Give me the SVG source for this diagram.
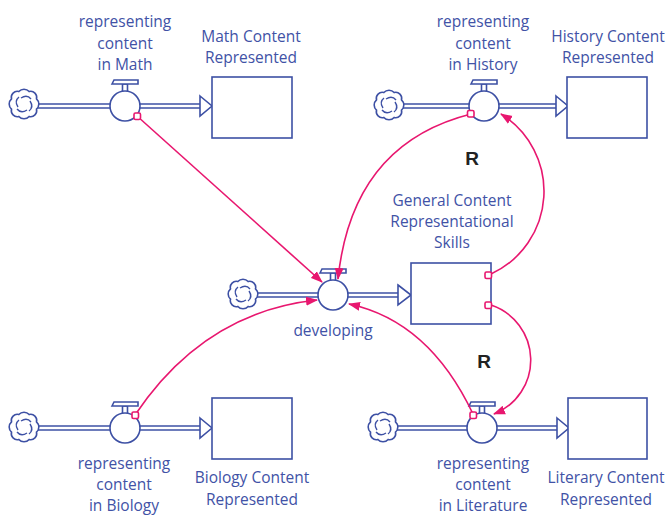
<svg xmlns="http://www.w3.org/2000/svg" width="671" height="515" viewBox="0 0 671 515">
<style>
.t{font-family:"Open Sans","Liberation Sans",sans-serif;font-size:15.5px;fill:#4152a6;text-anchor:middle}
.r{font-family:"Liberation Sans",Arial,sans-serif;font-size:19px;font-weight:bold;fill:#222;text-anchor:middle}
.pipeo{stroke:#3d50a4;stroke-width:5.5;fill:none}
.pipei{stroke:#fff;stroke-width:2.5;fill:none}
.bl{stroke:#3d50a4;stroke-width:1.6;fill:#fff}
.cl{stroke:#3d50a4;stroke-width:1.6;fill:#fff}
.sw{stroke:#3d50a4;stroke-width:1.4;fill:none}
.lk{stroke:#e8176f;stroke-width:1.6;fill:none}
.sq{stroke:#e8176f;stroke-width:1.6;fill:#fff}
</style>
<defs>
<marker id="ah" viewBox="0 0 12 10" refX="11" refY="5" markerWidth="12" markerHeight="10" markerUnits="userSpaceOnUse" orient="auto">
<path d="M0,0.5 L12,5 L0,9.5 z" fill="#e8176f"/>
</marker>
<g id="cloud">
<path class="cl" d="M12.5,-5.2 A7,7 0 0 1 12.5,5.2 A6,6 0 0 1 5.2,12.5 A7,7 0 0 1 -5.2,12.5 A6,6 0 0 1 -12.5,5.2 A7,7 0 0 1 -12.5,-5.2 A6,6 0 0 1 -5.2,-12.5 A7,7 0 0 1 5.2,-12.5 A6,6 0 0 1 12.5,-5.2 Z"/>
<path class="sw" d="M-3,-6 Q3,-10 7,-5 M6,-3 Q10,3 5,7 M3,6 Q-3,10 -7,5 M-6,3 Q-10,-3 -5,-7"/>
</g>
<g id="valve">
<path class="bl" d="M-2.5,-22 h5 v8 h-5 z"/>
<path class="bl" d="M-13,-22 L-11,-26 H13 L13,-22 Z"/>
<circle class="bl" cx="0" cy="0" r="15"/>
</g>
</defs>

<!-- Math flow -->
<g id="flow-math">
<path class="pipeo" d="M37,106 H202"/><path class="pipei" d="M36,106 H203"/>
<polygon class="bl" points="200,96 212,106 200,116"/>
<use href="#cloud" x="24" y="104"/>
<use href="#valve" x="125" y="106"/>
<text class="t" x="125" y="27">representing</text>
<text class="t" x="125" y="48.5">content</text>
<text class="t" x="125" y="70">in Math</text>
</g>
<g id="stock-math">
<rect class="bl" x="212" y="77" width="80" height="61"/>
<text class="t" x="251" y="42">Math Content</text>
<text class="t" x="251" y="63">Represented</text>
</g>

<!-- History flow -->
<g id="flow-history">
<path class="pipeo" d="M402,106 H558"/><path class="pipei" d="M401,106 H559"/>
<polygon class="bl" points="556,96 568,106 556,116"/>
<use href="#cloud" x="389" y="105"/>
<use href="#valve" x="484" y="106"/>
<text class="t" x="483" y="27">representing</text>
<text class="t" x="483" y="48.5">content</text>
<text class="t" x="483" y="70">in History</text>
</g>
<g id="stock-history">
<rect class="bl" x="567" y="77" width="80" height="61"/>
<text class="t" x="608" y="42">History Content</text>
<text class="t" x="608" y="63">Represented</text>
</g>

<!-- developing flow -->
<g id="flow-developing">
<path class="pipeo" d="M256,295 H400"/><path class="pipei" d="M255,295 H401"/>
<polygon class="bl" points="398,285 411,295 398,305"/>
<use href="#cloud" x="243" y="294"/>
<use href="#valve" x="333" y="295"/>
<text class="t" x="333" y="336">developing</text>
</g>
<g id="stock-general">
<rect class="bl" x="411" y="263" width="80" height="61"/>
<text class="t" x="452" y="206">General Content</text>
<text class="t" x="452" y="227">Representational</text>
<text class="t" x="452" y="248">Skills</text>
</g>

<!-- Biology flow -->
<g id="flow-biology">
<path class="pipeo" d="M37,428 H202"/><path class="pipei" d="M36,428 H203"/>
<polygon class="bl" points="200,418 212,428 200,438"/>
<use href="#cloud" x="24" y="427"/>
<use href="#valve" x="125" y="428"/>
<text class="t" x="124" y="469">representing</text>
<text class="t" x="124" y="490">content</text>
<text class="t" x="124" y="511">in Biology</text>
</g>
<g id="stock-biology">
<rect class="bl" x="212" y="398" width="80" height="61"/>
<text class="t" x="252" y="483">Biology Content</text>
<text class="t" x="252" y="505">Represented</text>
</g>

<!-- Literature flow -->
<g id="flow-literature">
<path class="pipeo" d="M396,428 H559"/><path class="pipei" d="M395,428 H560"/>
<polygon class="bl" points="557,418 569,428 557,438"/>
<use href="#cloud" x="383" y="427"/>
<use href="#valve" x="482" y="428"/>
<text class="t" x="483" y="469">representing</text>
<text class="t" x="483" y="490">content</text>
<text class="t" x="483" y="511">in Literature</text>
</g>
<g id="stock-literary">
<rect class="bl" x="568" y="398" width="79" height="61"/>
<text class="t" x="606" y="483">Literary Content</text>
<text class="t" x="606" y="505">Represented</text>
</g>

<!-- connectors -->
<g id="connectors">
<path class="lk" marker-end="url(#ah)" d="M137,116 L322,282"/>
<path class="lk" marker-end="url(#ah)" d="M471,114 Q352,144 338,279"/>
<path class="lk" marker-end="url(#ah)" d="M491,274 A91,91 0 0 0 501,114"/>
<path class="lk" marker-end="url(#ah)" d="M491,305 A58,58 0 0 1 494,414"/>
<path class="lk" marker-end="url(#ah)" d="M135,415 Q204,312 317,300"/>
<path class="lk" marker-end="url(#ah)" d="M473,414 Q429,321 349,304"/>
<rect class="sq" x="134" y="113" width="6.5" height="6.5" rx="1.5"/>
<rect class="sq" x="467.5" y="110.5" width="6.5" height="6.5" rx="1.5"/>
<rect class="sq" x="485" y="272" width="6.5" height="6.5" rx="1.5"/>
<rect class="sq" x="485" y="302" width="6.5" height="6.5" rx="1.5"/>
<rect class="sq" x="132" y="412" width="6.5" height="6.5" rx="1.5"/>
<rect class="sq" x="470" y="412" width="6.5" height="6.5" rx="1.5"/>
<text class="r" x="472" y="165">R</text>
<text class="r" x="484" y="368">R</text>
</g>
</svg>
